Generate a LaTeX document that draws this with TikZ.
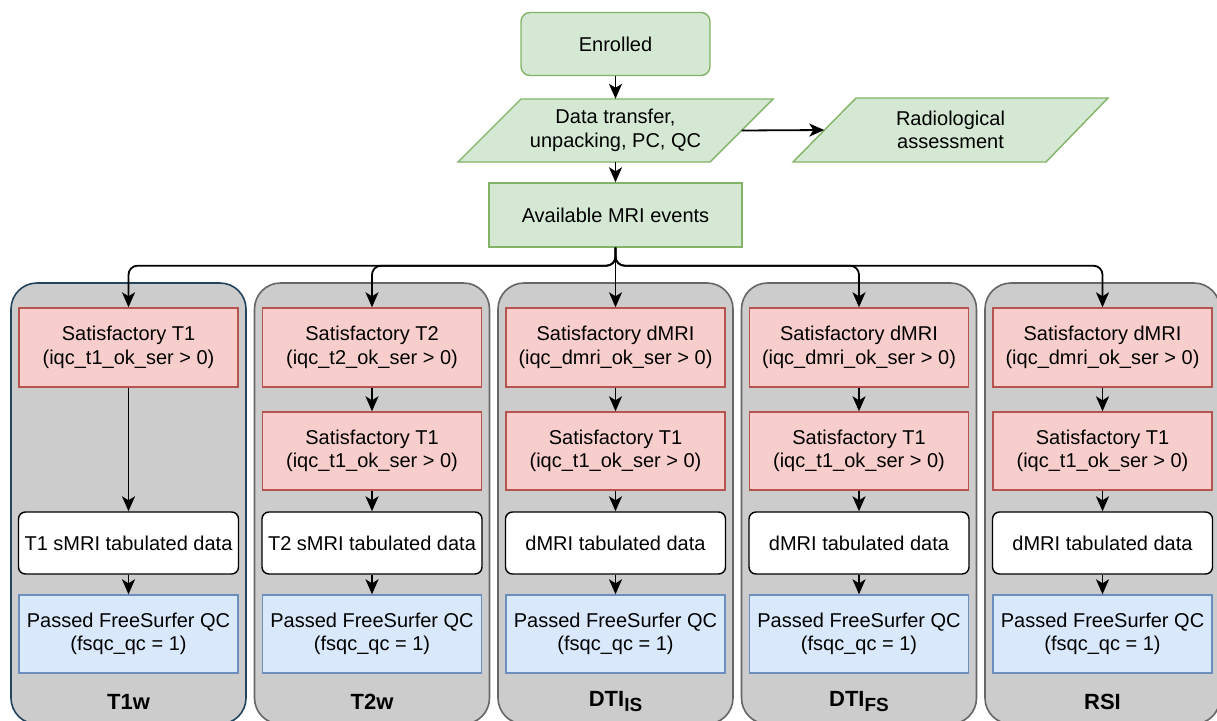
\documentclass[tikz,border=0pt]{standalone}
\usepackage{fontspec}
\setmainfont{Liberation Sans}
\usepackage{tikz}
\usetikzlibrary{arrows.meta}

\definecolor{greenfill}{HTML}{D5E8D4}
\definecolor{greenline}{HTML}{82B366}
\definecolor{redfill}{HTML}{F8CECC}
\definecolor{redline}{HTML}{B85450}
\definecolor{bluefill}{HTML}{DAE8FC}
\definecolor{blueline}{HTML}{6C8EBF}
\definecolor{lanefill}{HTML}{CCCCCC}
\definecolor{laneline}{HTML}{666666}
\definecolor{navyline}{HTML}{23445D}

\newcommand{\lanesub}[1]{\raisebox{-5pt}{\fontsize{19}{19}\selectfont #1}}

\tikzset{
    txt/.style={font=\fontsize{20}{23.5}\selectfont, align=center, inner sep=0pt},
    greenbox/.style={txt, draw=greenline, fill=greenfill, line width=1.4pt},
    para/.style={draw=greenline, fill=greenfill, line width=1.4pt, line join=miter},
    qcbox/.style={txt, draw=redline, fill=redfill, line width=1.4pt, minimum width=219, minimum height=79},
    tabbox/.style={txt, draw=black, fill=white, line width=1.4pt, rounded corners=7, minimum width=220, minimum height=62},
    fsbox/.style={txt, draw=blueline, fill=bluefill, line width=1.4pt, minimum width=219, minimum height=78},
    lane/.style={draw=laneline, fill=lanefill, line width=1.6pt, rounded corners=26},
    lanelabel/.style={font=\fontsize{22}{22}\selectfont\bfseries, inner sep=0pt},
    arr/.style={-{Stealth[length=15pt,width=13pt,inset=4pt]}, line width=1.8pt}
}

\begin{document}
\begin{tikzpicture}[x=1pt, y=-1pt]
    \useasboundingbox (0,0) rectangle (1217,720);

    % Grey lanes, one per modality
    \draw[lane, draw=navyline] (11,283) rectangle (246,724);
    \foreach \i in {1,2,3,4} {
        \pgfmathsetmacro{\cx}{128.5+243.5*\i}
        \draw[lane] (\cx-117.5,283) rectangle (\cx+117.5,724);
    }

    % Top of the flow
    \node[greenbox, rounded corners=9, minimum width=189, minimum height=63] (enr) at (615.5,44) {Enrolled};
    \draw[para] (458,162) -- (521,99) -- (773,99) -- (710,162) -- cycle;
    \node[txt, minimum width=252, minimum height=63] (dt) at (615.5,130.5) {Data transfer,\\unpacking, PC, QC};
    \draw[para] (793,162) -- (856,98) -- (1108,98) -- (1046,162) -- cycle;
    \node[txt, minimum width=252, minimum height=64] (rad) at (950.5,130) {Radiological\\assessment};
    \node[greenbox, minimum width=253, minimum height=64] (avail) at (615.5,215) {Available MRI events};

    \draw[arr] (enr) -- (dt);
    \draw[arr] (dt.east) -- (rad.west);
    \draw[arr] (dt) -- (avail);

    % T1w lane
    \node[qcbox] (sat0) at (128.5,347.5) {Satisfactory T1\\(iqc\_t1\_ok\_ser > 0)};
    \node[tabbox] (tab0) at (128.5,543) {T1 sMRI tabulated data};
    \node[fsbox] (fs0) at (128.5,634) {Passed FreeSurfer QC\\(fsqc\_qc = 1)};
    \node[lanelabel] (lab0) at (128.5,702) {T1w};
    \draw[arr] (sat0) -- (tab0);
    \draw[arr] (tab0) -- (fs0);

    % Lanes with two quality checks
    \foreach \i/\first/\tabtext/\labtext in {
        1/{Satisfactory T2\\(iqc\_t2\_ok\_ser > 0)}/{T2 sMRI tabulated data}/{T2w},
        2/{Satisfactory dMRI\\(iqc\_dmri\_ok\_ser > 0)}/{dMRI tabulated data}/{DTI\lanesub{IS}},
        3/{Satisfactory dMRI\\(iqc\_dmri\_ok\_ser > 0)}/{dMRI tabulated data}/{DTI\lanesub{FS}},
        4/{Satisfactory dMRI\\(iqc\_dmri\_ok\_ser > 0)}/{dMRI tabulated data}/{RSI}} {
        \pgfmathsetmacro{\cx}{128.5+243.5*\i}
        \node[qcbox] (sat\i) at (\cx,347.5) {\first};
        \node[qcbox, minimum height=78] (sec\i) at (\cx,451) {Satisfactory T1\\(iqc\_t1\_ok\_ser > 0)};
        \node[tabbox] (tab\i) at (\cx,543) {\tabtext};
        \node[fsbox] (fs\i) at (\cx,634) {Passed FreeSurfer QC\\(fsqc\_qc = 1)};
        \node[lanelabel] (lab\i) at (\cx,702) {\labtext};
        \draw[arr] (sat\i) -- (sec\i);
        \draw[arr] (sec\i) -- (tab\i);
        \draw[arr] (tab\i) -- (fs\i);
    }

    % Branches from the available events to each lane
    \draw[arr] (avail) -- (sat2);
    \foreach \i in {0,1,3,4} {
        \draw[arr, rounded corners=9] (avail.south) -- ++(0,18) -| (sat\i.north);
    }
\end{tikzpicture}
\end{document}
